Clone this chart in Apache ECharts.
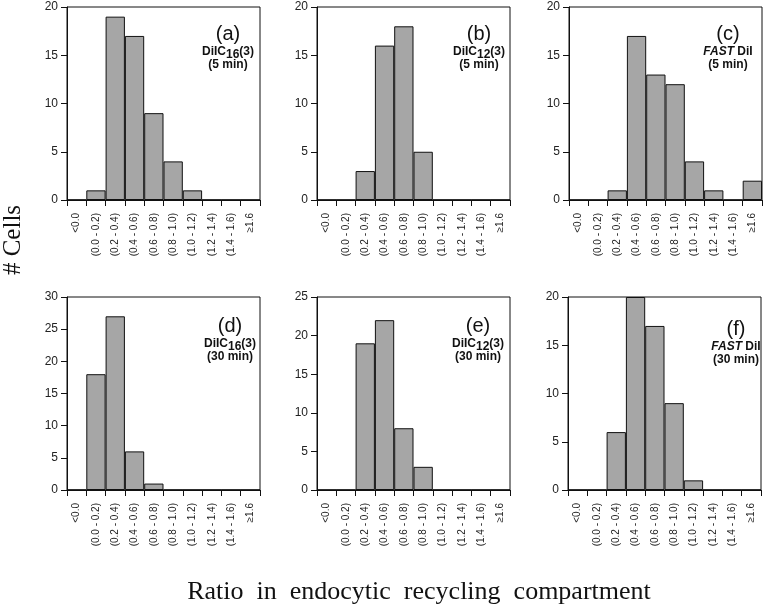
<!DOCTYPE html>
<html>
<head>
    <meta charset="utf-8">
    <title>ECharts</title>
    <script src="https://cdn.jsdelivr.net/npm/echarts@6/dist/echarts.min.js"></script>
</head>
<body style="margin:0">
    <div id="main" style="width: 765px;height:610px;"></div>
    <script type="text/javascript">

// bins of the ratio
var ratioBins = ['<0.0', '(0.0 - 0.2)', '(0.2 - 0.4)', '(0.4 - 0.6)', '(0.6 - 0.8)',
                 '(0.8 - 1.0)', '(1.0 - 1.2)', '(1.2 - 1.4)', '(1.4 - 1.6)', '≥1.6'];

// # cells per bin, one array per panel
var cellsA = [0, 1, 19, 17, 9, 4, 1, 0, 0, 0];   // DiIC16(3) 5 min
var cellsB = [0, 0, 3, 16, 18, 5, 0, 0, 0, 0];   // DiIC12(3) 5 min
var cellsC = [0, 0, 1, 17, 13, 12, 4, 1, 0, 2];  // FAST DiI 5 min
var cellsD = [0, 18, 27, 6, 1, 0, 0, 0, 0, 0];   // DiIC16(3) 30 min
var cellsE = [0, 0, 19, 22, 8, 3, 0, 0, 0, 0];   // DiIC12(3) 30 min
var cellsF = [0, 0, 6, 20, 17, 9, 1, 0, 0, 0];   // FAST DiI 30 min

var yMax = [20, 20, 20, 30, 25, 20];

var panels = [
    {data: cellsA, left: 67,  top: 7,   tag: '(a)', label: '{b|DiIC}{s|16}{b|(3)}', time: '(5 min)',  tx: 223, ty: 16},
    {data: cellsB, left: 317, top: 7,   tag: '(b)', label: '{b|DiIC}{s|12}{b|(3)}', time: '(5 min)',  tx: 474, ty: 16},
    {data: cellsC, left: 569, top: 7,   tag: '(c)', label: '{i|FAST}{b| DiI}',      time: '(5 min)',  tx: 723, ty: 16},
    {data: cellsD, left: 67,  top: 297, tag: '(d)', label: '{b|DiIC}{s|16}{b|(3)}', time: '(30 min)', tx: 225, ty: 308},
    {data: cellsE, left: 317, top: 297, tag: '(e)', label: '{b|DiIC}{s|12}{b|(3)}', time: '(30 min)', tx: 473, ty: 308},
    {data: cellsF, left: 568, top: 297, tag: '(f)', label: '{i|FAST}{b| DiI}',      time: '(30 min)', tx: 731, ty: 311}
];

var myChart = echarts.init(document.getElementById('main'));

var grids = [], xAxes = [], yAxes = [], series = [], titles = [];
var sans = 'Liberation Sans';

panels.forEach(function (p, i) {
    grids.push({
        left: p.left, top: p.top, width: 193, height: 193,
        show: true, borderColor: '#111', borderWidth: 1, backgroundColor: '#fff'
    });
    xAxes.push({
        type: 'category', gridIndex: i, data: ratioBins,
        axisLine: {lineStyle: {color: '#111', width: 1}},
        axisTick: {show: true, length: 6, lineStyle: {color: '#111'}},
        axisLabel: {rotate: 90, fontSize: 10, margin: 13, color: '#222', fontFamily: sans, interval: 0}
    });
    yAxes.push({
        type: 'value', gridIndex: i, min: 0, max: yMax[i], interval: 5,
        splitLine: {show: false},
        axisLine: {show: true, lineStyle: {color: '#111', width: 1}},
        axisTick: {show: true, length: 6, lineStyle: {color: '#111'}},
        axisLabel: {fontSize: 12, margin: 9, color: '#222', fontFamily: sans}
    });
    series.push({
        type: 'bar', xAxisIndex: i, yAxisIndex: i, data: p.data,
        barCategoryGap: 0,
        itemStyle: {color: '#a6a6a6', borderColor: '#111', borderWidth: 1}
    });
    titles.push({
        left: p.tx, top: p.ty, textAlign: 'center',
        text: '{p|' + p.tag + '}\n' + p.label + '\n{b|' + p.time + '}',
        textStyle: {
            fontWeight: 'normal',
            rich: {
                p: {fontSize: 20, fontWeight: 'normal', fontFamily: sans, color: '#111', lineHeight: 26},
                b: {fontSize: 12, fontWeight: 'bold', fontFamily: sans, color: '#111', lineHeight: 13, padding: [0, 0, 3, 0]},
                i: {fontSize: 12, fontWeight: 'bold', fontStyle: 'italic', fontFamily: sans, color: '#111', lineHeight: 13, padding: [0, 0, 3, 0]},
                s: {fontSize: 12, fontWeight: 'bold', fontFamily: sans, color: '#111', lineHeight: 13, padding: [3, 0, 0, 0]}
            }
        }
    });
});

var option = {
    backgroundColor: '#fff',
    animation: false,
    title: titles,
    grid: grids,
    xAxis: xAxes,
    yAxis: yAxes,
    series: series,
    graphic: [
        {
            type: 'text', rotation: Math.PI / 2, x: 13, y: 240,
            style: {text: '# Cells', font: '25px "Liberation Serif"', fill: '#111', textAlign: 'center', textVerticalAlign: 'middle'}
        },
        {
            type: 'text', x: 419, y: 592,
            style: {text: 'Ratio  in  endocytic  recycling  compartment', font: '26px "Liberation Serif"', fill: '#111', textAlign: 'center', textVerticalAlign: 'middle'}
        }
    ]
};

myChart.setOption(option);

    </script>
</body>
</html>
